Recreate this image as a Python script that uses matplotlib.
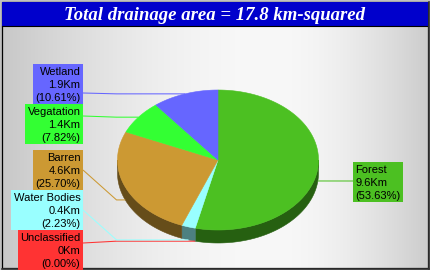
import numpy as np
import matplotlib
matplotlib.use('Agg')
import matplotlib.pyplot as plt
from matplotlib.patches import Polygon, Rectangle

# ---------------- data ----------------
title = "Total drainage area = 17.8 km-squared"
labels = ["Forest", "Unclassified", "Water Bodies", "Barren", "Vegatation", "Wetland"]
values_km = [9.6, 0.0, 0.4, 4.6, 1.4, 1.9]
percents = [53.63, 0.00, 2.23, 25.70, 7.82, 10.61]
colors = ["#4cc022", "#ff3333", "#99ffff", "#cc9933", "#33ff33", "#6666ff"]

# ---------------- layout ----------------
W, H = 430, 270
cx, cy, rx, ry, depth = 218.0, 160.0, 100.5, 70.0, 13.0
start_angle = 90.0
# label box layout: side, box top, anchor edge x, leader attach y
box_side = ["R", "L", "L", "L", "L", "L"]
box_top = [162, 230, 190, 150, 104, 64]
box_edge = [353, 83, 83, 83, 83, 83]
attach_y = [181, 243, 210, 170, 116, 93]

fig = plt.figure(figsize=(W / 100, H / 100), dpi=100)
fig.patch.set_facecolor("#c0c0c0")
ax = fig.add_axes([0, 0, 1, 1])
ax.set_xlim(0, W)
ax.set_ylim(H, 0)
ax.axis("off")

# background gradient (metal-like)
xs = np.linspace(2, 428, 427)
peak = 270.0
g = np.where(xs < peak,
             200 + 48 * np.sin((xs - 2) / (peak - 2) * np.pi / 2),
             205 + 43 * np.cos((xs - peak) / (428 - peak) * np.pi / 2))
img = np.repeat((g / 255.0)[None, :, None], 3, axis=2)
ax.imshow(img, extent=(2, 428, 268, 26), aspect="auto", zorder=0, interpolation="bilinear")

# frame & title bar
ax.add_patch(Rectangle((1.5, 1.5), 426.5, 266.5, fill=False, ec="black", lw=0.9, zorder=1))
ax.add_patch(Rectangle((2, 2), 426, 23.5, fc="#0000cc", ec="none", zorder=1))
ax.plot([2, 428], [25.5, 25.5], color="black", lw=0.8, zorder=2)
ax.plot([428.5, 428.5], [2, 268.5], color="#333333", lw=1.2, zorder=2)
ax.plot([2, 428.5], [268.5, 268.5], color="#333333", lw=1.2, zorder=2)
ax.text(215, 19.5, title, color="white", fontsize=13.5, fontweight="bold", fontstyle="italic",
        family="Liberation Serif", ha="center", va="baseline", zorder=3)

# pie geometry
fr = np.array(percents) / sum(percents)
cum = np.concatenate([[0], np.cumsum(fr)])
a_hi = start_angle - cum[:-1] * 360
a_lo = start_angle - cum[1:] * 360


def pt(a, dz=0.0):
    r = np.radians(a)
    return cx + rx * np.cos(r), cy - ry * np.sin(r) + dz


def darker(c, f=0.5):
    c = matplotlib.colors.to_rgb(c)
    return tuple(v * f for v in c)


# sides (front half: angles in [-180, 0])
for i in range(len(labels)):
    lo, hi = a_lo[i], a_hi[i]
    for shift in (0, -360, 360):
        s_lo, s_hi = max(lo + shift, -180), min(hi + shift, 0)
        if s_hi - s_lo > 1e-6:
            t = np.linspace(s_lo, s_hi, 80)
            top = [pt(a) for a in t]
            bot = [pt(a, depth) for a in t[::-1]]
            ax.add_patch(Polygon(top + bot, closed=True, fc=darker(colors[i]),
                                 ec=darker(colors[i]), lw=0.4, zorder=4))

# tops
for i in range(len(labels)):
    lo, hi = a_lo[i], a_hi[i]
    if hi - lo < 1e-6:
        continue
    t = np.linspace(lo, hi, max(int(hi - lo), 2) * 2)
    poly = [(cx, cy)] + [pt(a) for a in t]
    ax.add_patch(Polygon(poly, closed=True, fc=colors[i], ec=colors[i], lw=0.4, zorder=5))

# labels
renderer = fig.canvas.get_renderer()
for i in range(len(labels)):
    lines = [labels[i], f"{values_km[i]:g}Km", f"({percents[i]:.2f}%)"]
    side = box_side[i]
    if side == "L":
        tx, ha = box_edge[i] - 2.5, "right"
    else:
        tx, ha = box_edge[i] + 2.5, "left"
    texts = []
    for k, s in enumerate(lines):
        texts.append(ax.text(tx, box_top[i] + 11 + 13 * k, s, fontsize=8, family="Liberation Sans",
                             ha=ha, va="baseline", color="black", zorder=8))
    wmax = max(t.get_window_extent(renderer).width for t in texts)
    bw = wmax + 5
    bx = box_edge[i] - bw if side == "L" else box_edge[i]
    ax.add_patch(Rectangle((bx, box_top[i]), bw, 40, fc=colors[i], ec="none", zorder=7))

    # leader line
    mid = (a_lo[i] + a_hi[i]) / 2
    m = ((mid + 180) % 360) - 180
    dz = depth if -180 <= m <= 0 else 0.0
    px, py = pt(mid, dz)
    knee_x = cx - rx - 1 if side == "L" else cx + rx + 1
    ax.plot([px, knee_x, box_edge[i]], [py, py, attach_y[i]], color=colors[i], lw=0.75,
            zorder=6, solid_capstyle="butt")

fig.savefig("out.png", dpi=100, facecolor=fig.get_facecolor())
